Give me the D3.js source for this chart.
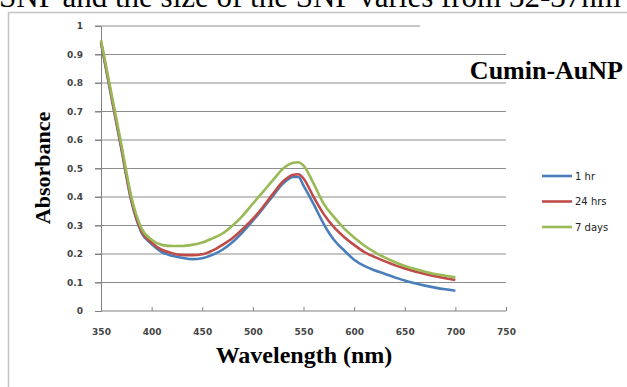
<!DOCTYPE html>
<html>
<head>
<meta charset="utf-8">
<script src="https://cdn.jsdelivr.net/npm/d3@7"></script>
<style>
  html, body { margin: 0; padding: 0; background: #fff; }
  svg { display: block; }
</style>
</head>
<body>
<svg width="627" height="387"></svg>
<script>
// wavelengths (nm) and absorbance
const wavelengths = [350,360,370,380,390,400,410,420,430,440,450,460,470,480,490,500,510,520,530,540,545,550,560,570,580,590,600,610,620,630,640,650,660,670,680,690,700];
const hr1   = [0.94,0.755,0.57,0.385,0.275,0.235,0.207,0.194,0.187,0.182,0.185,0.197,0.215,0.242,0.277,0.317,0.36,0.405,0.448,0.47,0.47,0.44,0.375,0.305,0.25,0.213,0.18,0.158,0.143,0.131,0.118,0.107,0.097,0.089,0.082,0.076,0.071];
const hrs24 = [0.945,0.76,0.575,0.39,0.28,0.24,0.215,0.203,0.197,0.196,0.199,0.212,0.232,0.256,0.288,0.323,0.365,0.412,0.455,0.478,0.48,0.465,0.40,0.34,0.294,0.26,0.232,0.207,0.19,0.175,0.161,0.149,0.139,0.13,0.122,0.115,0.109];
const days7 = [0.95,0.768,0.586,0.40,0.29,0.25,0.232,0.228,0.228,0.232,0.24,0.255,0.272,0.30,0.335,0.377,0.418,0.46,0.50,0.52,0.522,0.51,0.447,0.376,0.33,0.29,0.258,0.23,0.207,0.188,0.172,0.158,0.147,0.138,0.13,0.124,0.118];
const seriesNames = ["1 hr", "24 hrs", "7 days"];
const seriesColors = ["#4a7ebb", "#be4b48", "#98b954"];
const xTicks = [350,400,450,500,550,600,650,700,750];
const yTicks = [0,0.1,0.2,0.3,0.4,0.5,0.6,0.7,0.8,0.9,1];

const svg = d3.select("svg");

// cut-off text line from the page above the figure
svg.append("text")
  .attr("x", -1).attr("y", 7)
  .attr("font-family", "Liberation Serif, Times New Roman, serif")
  .attr("font-size", 31)
  .attr("fill", "#000")
  .text("SNP and the size of the SNP varies from 32-37nm");

// figure frame (left and top edges visible)
svg.append("path")
  .attr("d", "M8.5,387 V12.5 H627")
  .attr("fill", "none")
  .attr("stroke", "#c4c4c4")
  .attr("stroke-width", 1.5);

const x = d3.scaleLinear().domain([350, 750]).range([101, 506]);
const y = d3.scaleLinear().domain([0, 1]).range([311, 26]);

// horizontal gridlines
svg.append("g")
  .selectAll("line")
  .data(yTicks.filter(d => d > 0))
  .join("line")
  .attr("x1", x(350) - 6).attr("x2", d => d === 1 ? x(665) : x(750))
  .attr("y1", d => y(d)).attr("y2", d => y(d))
  .attr("stroke", "#8c8c8c")
  .attr("stroke-width", 1);

// y axis
const yAxis = svg.append("g")
  .attr("transform", `translate(${x(350)},0)`)
  .call(d3.axisLeft(y).tickValues(yTicks).tickSize(6).tickPadding(12)
    .tickFormat(d => d === 0 ? "0" : d === 1 ? "1" : d3.format(".1f")(d)));
yAxis.select(".domain").attr("stroke", "#808080");
yAxis.selectAll(".tick line").attr("stroke", "#808080");
yAxis.selectAll(".tick text")
  .attr("font-family", "DejaVu Sans, sans-serif")
  .attr("font-size", 9)
  .attr("font-weight", "bold")
  .attr("fill", "#444");

// x axis (ticks pointing up)
const xAxis = svg.append("g")
  .attr("transform", `translate(0,${y(0)})`)
  .call(d3.axisBottom(x).tickValues(xTicks).tickSize(-4).tickPadding(18));
xAxis.select(".domain").attr("stroke", "#808080").attr("d", `M${x(350)},0H${x(750)}`);
xAxis.selectAll(".tick line").attr("stroke", "#808080");
xAxis.selectAll(".tick text")
  .attr("font-family", "DejaVu Sans, sans-serif")
  .attr("font-size", 9)
  .attr("font-weight", "bold")
  .attr("fill", "#444");

// series
const series = [hr1, hrs24, days7];
const line = d3.line()
  .x((d, i) => x(wavelengths[i]))
  .y(d => y(d))
  .curve(d3.curveMonotoneX);

svg.append("g")
  .selectAll("path")
  .data(series)
  .join("path")
  .attr("d", line)
  .attr("fill", "none")
  .attr("stroke", (d, i) => seriesColors[i])
  .attr("stroke-width", 2.6)
  .attr("stroke-linejoin", "round");

// legend
const legend = svg.append("g")
  .selectAll("g")
  .data(seriesNames)
  .join("g")
  .attr("transform", (d, i) => `translate(542,${176 + i * 25.5})`);
legend.append("line")
  .attr("x1", 0).attr("x2", 30)
  .attr("stroke", (d, i) => seriesColors[i])
  .attr("stroke-width", 2.6);
legend.append("text")
  .attr("x", 33).attr("y", 3.5)
  .attr("font-family", "DejaVu Sans, sans-serif")
  .attr("font-size", 10)
  .attr("fill", "#222")
  .text(d => d);

// titles
svg.append("text")
  .attr("x", 623).attr("y", 79)
  .attr("text-anchor", "end")
  .attr("font-family", "Liberation Serif, Times New Roman, serif")
  .attr("font-weight", "bold")
  .attr("font-size", 26)
  .text("Cumin-AuNP");

svg.append("text")
  .attr("transform", "translate(50,168) rotate(-90)")
  .attr("text-anchor", "middle")
  .attr("font-family", "Liberation Serif, Times New Roman, serif")
  .attr("font-weight", "bold")
  .attr("font-size", 22)
  .text("Absorbance");

svg.append("text")
  .attr("x", 304).attr("y", 363)
  .attr("text-anchor", "middle")
  .attr("font-family", "Liberation Serif, Times New Roman, serif")
  .attr("font-weight", "bold")
  .attr("font-size", 24)
  .text("Wavelength (nm)");
</script>
</body>
</html>
